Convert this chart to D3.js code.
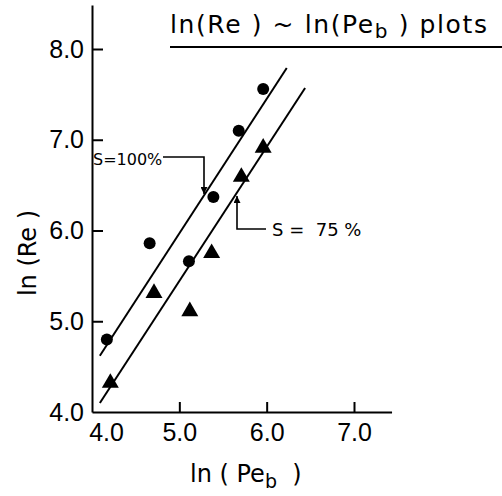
<!DOCTYPE html>
<html><head><meta charset="utf-8">
<script src="https://cdn.jsdelivr.net/npm/d3@7"></script>
<style>
body{margin:0;background:#fff}
svg{display:block}
text{fill:#000}
</style>
</head><body><svg id="c" width="502" height="496"></svg>
<script>
// ---- data ----
const xTicks = [4, 5, 6, 7];
const xTickLabels = ["4.0", "5.0", "6.0", "7.0"];
const yTicks = [4, 5, 6, 7, 8];
const yTickLabels = ["4.0", "5.0", "6.0", "7.0", "8.0"];
// S = 100 % (filled circles)
const circleX = [4.17, 4.66, 5.11, 5.39, 5.68, 5.96];
const circleY = [4.80, 5.86, 5.66, 6.37, 7.10, 7.56];
// S = 75 % (filled triangles)
const triX = [4.21, 4.71, 5.12, 5.37, 5.71, 5.96];
const triY = [4.32, 5.31, 5.11, 5.75, 6.59, 6.91];
// fitted lines
const line100X = [4.09, 6.23], line100Y = [4.62, 7.79];
const line75X = [4.09, 6.44], line75Y = [4.10, 7.57];

const svg = d3.select("#c");
const x = d3.scaleLinear().domain([4, 7]).range([92, 354]);
const y = d3.scaleLinear().domain([4, 8]).range([412, 49]);
const FONT_TICK = '"Liberation Sans", Arial, sans-serif';
const FONT_TXT = '"DejaVu Sans", sans-serif';

// axes (domain extended past last tick, as in the original)
const xAxisScale = x.copy().domain([4, 7.43]).range([92, x(7.43)]);
const yAxisScale = y.copy().domain([4, 8.485]).range([412, y(8.485)]);

const gx = svg.append("g").attr("transform", `translate(0,${y(4)})`)
  .call(d3.axisBottom(xAxisScale).tickValues(xTicks).tickSize(-10).tickSizeOuter(0).tickPadding(11)
    .tickFormat((d, i) => xTickLabels[i]));
const gy = svg.append("g").attr("transform", `translate(${x(4)},0)`)
  .call(d3.axisLeft(yAxisScale).tickValues(yTicks).tickSize(-11).tickSizeOuter(0).tickPadding(8)
    .tickFormat((d, i) => yTickLabels[i]));
[gx, gy].forEach(g => {
  g.selectAll("path.domain").attr("stroke", "#000").attr("stroke-width", 2);
  g.selectAll(".tick line").attr("stroke", "#000").attr("stroke-width", 2);
  g.selectAll(".tick text").attr("font-family", FONT_TICK).attr("font-size", 25).attr("fill", "#000");
});
gy.selectAll(".tick").filter(d => d === 4).select("line").remove();
gx.selectAll(".tick").filter(d => d === 4).select("line").remove();
gx.selectAll(".tick").filter(d => d === 4).select("text").attr("x", 14);

// fitted lines
const lineGen = d3.line().x(d => x(d[0])).y(d => y(d[1]));
svg.append("path").attr("d", lineGen(d3.zip(line100X, line100Y)))
  .attr("stroke", "#000").attr("stroke-width", 2).attr("fill", "none");
svg.append("path").attr("d", lineGen(d3.zip(line75X, line75Y)))
  .attr("stroke", "#000").attr("stroke-width", 2).attr("fill", "none");

// points
svg.append("g").selectAll("circle").data(d3.zip(circleX, circleY)).join("circle")
  .attr("cx", d => x(d[0])).attr("cy", d => y(d[1])).attr("r", 6).attr("fill", "#000");
svg.append("g").selectAll("path").data(d3.zip(triX, triY)).join("path")
  .attr("d", d3.symbol(d3.symbolTriangle, 125))
  .attr("transform", d => `translate(${x(d[0])},${y(d[1])})`).attr("fill", "#000");

// title
const title = svg.append("text").attr("x", 170).attr("y", 33).attr("letter-spacing", 1.6)
  .attr("font-family", FONT_TXT).attr("font-size", 25).attr("xml:space", "preserve");
title.append("tspan").text("ln(Re ) ~ ln(Pe");
title.append("tspan").attr("dy", 5).attr("font-size", 20).text("b");
title.append("tspan").attr("dy", -5).text(" ) plots");
svg.append("line").attr("x1", 170).attr("x2", 502).attr("y1", 47).attr("y2", 47)
  .attr("stroke", "#000").attr("stroke-width", 2);

// axis titles
svg.append("text").attr("transform", "translate(36,253) rotate(-90)")
  .attr("text-anchor", "middle").attr("font-family", FONT_TXT).attr("font-size", 24)
  .attr("xml:space", "preserve").text("ln (Re )");
const xl = svg.append("text").attr("x", 190).attr("y", 482)
  .attr("font-family", FONT_TXT).attr("font-size", 24).attr("xml:space", "preserve");
xl.append("tspan").text("ln ( Pe");
xl.append("tspan").attr("dy", 6).attr("font-size", 19).text("b");
xl.append("tspan").attr("dy", -6).text("  )");

// annotations with arrows
const defs = svg.append("defs");
defs.append("marker").attr("id", "ah").attr("viewBox", "0 0 10 10")
  .attr("refX", 10).attr("refY", 5).attr("markerWidth", 14).attr("markerHeight", 7)
  .attr("markerUnits", "userSpaceOnUse").attr("orient", "auto")
  .append("path").attr("d", "M0,0 L10,5 L0,10 Z").attr("fill", "#000");

svg.append("text").attr("x", 93).attr("y", 165)
  .attr("font-family", FONT_TXT).attr("font-size", 16).text("S=100%");
svg.append("path").attr("d", "M163,157 H204 V194")
  .attr("stroke", "#000").attr("stroke-width", 1.6).attr("fill", "none").attr("marker-end", "url(#ah)");

svg.append("text").attr("x", 272).attr("y", 236).attr("xml:space", "preserve")
  .attr("font-family", FONT_TXT).attr("font-size", 18).text("S =  75 %");
svg.append("path").attr("d", "M266,229 H237 V196")
  .attr("stroke", "#000").attr("stroke-width", 1.6).attr("fill", "none").attr("marker-end", "url(#ah)");
</script>
</body></html>
